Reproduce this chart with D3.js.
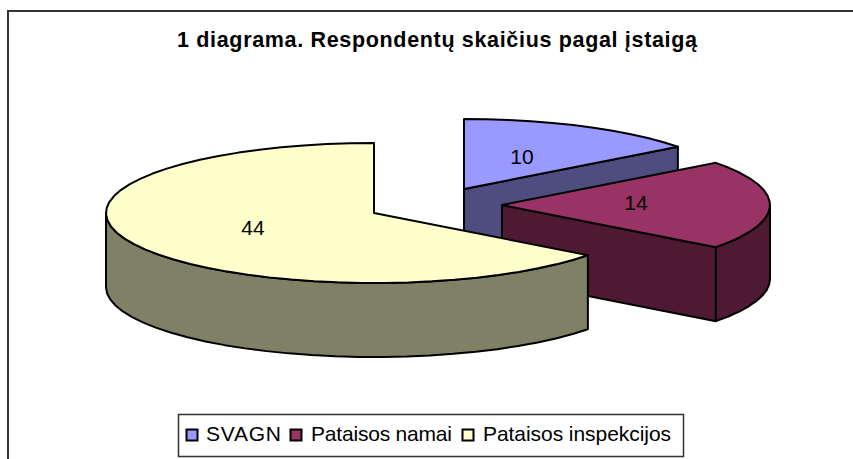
<!DOCTYPE html>
<html><head><meta charset="utf-8">
<script src="https://cdn.jsdelivr.net/npm/d3@7"></script>
<style>html,body{margin:0;padding:0;background:#fff;overflow:hidden}svg{display:block}text{font-family:"Liberation Sans",Arial,sans-serif;fill:#000}</style>
</head><body><svg id="c" width="853" height="459"></svg>
<script>
const title = "1 diagrama. Respondentų skaičius pagal įstaigą";
const categories = ["SVAGN","Pataisos namai","Pataisos inspekcijos"];
const values = [10,14,44];
const topColors = ["#9999FF","#993366","#FFFFCC"];
const sideColors = ["#4D4D80","#4D1933","#808066"];
const explode = [[90,-24],[128,-8],[0,0]];
const cx=374, cy=213, rx=268, ry=70, depth=74;

const svg=d3.select("#c");
svg.append("path").attr("d","M8,459V11H853").attr("fill","none").attr("stroke","#333").attr("stroke-width",2);
svg.append("text").text(title).attr("x",437).attr("y",47).attr("text-anchor","middle").attr("font-size",21.5).attr("font-weight","bold").attr("textLength",520).attr("lengthAdjust","spacing");

const slices=d3.pie().sort(null)(values);
const px=(i,a)=>cx+explode[i][0]+rx*Math.sin(a);
const py=(i,a)=>cy+explode[i][1]-ry*Math.cos(a);
const line=d3.line();
const rim=(i,a0,a1,dy=0)=>{
  const n=Math.max(2,Math.ceil(Math.abs(a1-a0)/0.09));
  return d3.range(n+1).map(k=>{const a=a0+(a1-a0)*k/n;return [px(i,a),py(i,a)+dy];});
};
slices.forEach((s,i)=>{
  const g=svg.append("g").attr("stroke","#000").attr("stroke-width",2).attr("stroke-linejoin","round");
  const ax=cx+explode[i][0], ay=cy+explode[i][1];
  if(i<2){
    const e=[px(i,s.endAngle),py(i,s.endAngle)];
    g.append("path").attr("fill",sideColors[i]).attr("d",line([[ax,ay],e,[e[0],e[1]+depth],[ax,ay+depth]])+"Z");
  }
  const w0=Math.max(s.startAngle,Math.PI/2), w1=Math.min(s.endAngle,3*Math.PI/2);
  if(w1>w0){
    g.append("path").attr("fill",sideColors[i]).attr("d",line([...rim(i,w0,w1),...rim(i,w1,w0,depth)])+"Z");
  }
  g.append("path").attr("fill",topColors[i]).attr("d",line([[ax,ay],...rim(i,s.startAngle,s.endAngle)])+"Z");
});
const labelPos=[[522,157],[636,203],[253,228]];
values.forEach((v,i)=>svg.append("text").text(v).attr("x",labelPos[i][0]).attr("y",labelPos[i][1]+7).attr("text-anchor","middle").attr("font-size",21));

svg.append("rect").attr("x",178.5).attr("y",414.5).attr("width",505).attr("height",42).attr("fill","#fff").attr("stroke","#333").attr("stroke-width",1.5);
const swX=[186,290,462], txX=[206,311,483], txW=[75,141,188];
categories.forEach((c,i)=>{
  svg.append("rect").attr("x",swX[i]+.5).attr("y",429.5).attr("width",11).attr("height",11).attr("fill",topColors[i]).attr("stroke","#000").attr("stroke-width",2);
  svg.append("text").text(c).attr("x",txX[i]).attr("y",441).attr("font-size",21).attr("textLength",txW[i]).attr("lengthAdjust","spacing");
});
</script></body></html>
